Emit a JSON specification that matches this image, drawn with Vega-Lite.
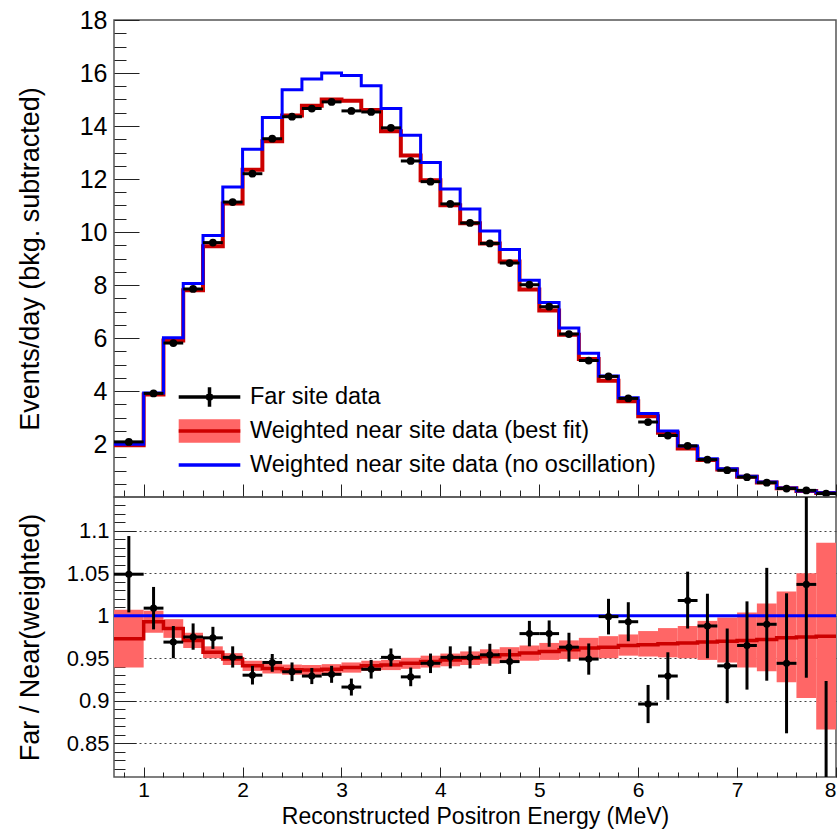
{
  "$schema": "https://vega.github.io/schema/vega-lite/v6.json",
  "background": "white",
  "padding": {"left": 15, "top": 7, "right": 5, "bottom": 2},
  "autosize": {"type": "pad"},
  "spacing": 0,
  "bounds": "flush",
  "config": {
    "font": "Liberation Sans",
    "view": {"stroke": "#555555", "strokeWidth": 1.5},
    "axis": {"labelFont": "Liberation Sans", "titleFont": "Liberation Sans", "labelColor": "#000000", "titleColor": "#000000", "titleFontWeight": "normal", "tickColor": "#222222", "tickWidth": 1, "domain": false, "grid": false},
    "legend": {"labelFont": "Liberation Sans"}
  },
  "datasets": {
    "bins": [
      {"lo": 0.7, "hi": 1.0, "e": 0.85, "far": 2.08, "red": 1.95, "blue": 1.99, "r": 1.049, "elo": 1.004, "ehi": 1.094, "blo": 0.939, "bhi": 1.007},
      {"lo": 1.0, "hi": 1.2, "e": 1.1, "far": 3.91, "red": 3.87, "blue": 3.92, "r": 1.009, "elo": 0.984, "ehi": 1.034, "blo": 0.980, "bhi": 1.006},
      {"lo": 1.2, "hi": 1.4, "e": 1.3, "far": 5.81, "red": 5.91, "blue": 6.01, "r": 0.969, "elo": 0.950, "ehi": 0.988, "blo": 0.974, "bhi": 0.996},
      {"lo": 1.4, "hi": 1.6, "e": 1.5, "far": 7.85, "red": 7.80, "blue": 8.06, "r": 0.975, "elo": 0.960, "ehi": 0.991, "blo": 0.962, "bhi": 0.980},
      {"lo": 1.6, "hi": 1.8, "e": 1.7, "far": 9.60, "red": 9.46, "blue": 9.87, "r": 0.974, "elo": 0.961, "ehi": 0.987, "blo": 0.950, "bhi": 0.964},
      {"lo": 1.8, "hi": 2.0, "e": 1.9, "far": 11.13, "red": 11.08, "blue": 11.70, "r": 0.951, "elo": 0.939, "ehi": 0.964, "blo": 0.942, "bhi": 0.956},
      {"lo": 2.0, "hi": 2.2, "e": 2.1, "far": 12.20, "red": 12.35, "blue": 13.12, "r": 0.930, "elo": 0.919, "ehi": 0.941, "blo": 0.935, "bhi": 0.947},
      {"lo": 2.2, "hi": 2.4, "e": 2.3, "far": 13.52, "red": 13.42, "blue": 14.32, "r": 0.945, "elo": 0.934, "ehi": 0.955, "blo": 0.932, "bhi": 0.944},
      {"lo": 2.4, "hi": 2.6, "e": 2.5, "far": 14.35, "red": 14.40, "blue": 15.37, "r": 0.934, "elo": 0.923, "ehi": 0.945, "blo": 0.9305, "bhi": 0.9425},
      {"lo": 2.6, "hi": 2.8, "e": 2.7, "far": 14.66, "red": 14.76, "blue": 15.77, "r": 0.929, "elo": 0.9195, "ehi": 0.9385, "blo": 0.930, "bhi": 0.942},
      {"lo": 2.8, "hi": 3.0, "e": 2.9, "far": 14.91, "red": 15.00, "blue": 16.00, "r": 0.931, "elo": 0.921, "ehi": 0.941, "blo": 0.931, "bhi": 0.943},
      {"lo": 3.0, "hi": 3.2, "e": 3.1, "far": 14.57, "red": 14.95, "blue": 15.91, "r": 0.916, "elo": 0.906, "ehi": 0.926, "blo": 0.933, "bhi": 0.945},
      {"lo": 3.2, "hi": 3.4, "e": 3.3, "far": 14.53, "red": 14.60, "blue": 15.52, "r": 0.937, "elo": 0.926, "ehi": 0.948, "blo": 0.935, "bhi": 0.947},
      {"lo": 3.4, "hi": 3.6, "e": 3.5, "far": 13.93, "red": 13.80, "blue": 14.66, "r": 0.951, "elo": 0.9405, "ehi": 0.9615, "blo": 0.936, "bhi": 0.948},
      {"lo": 3.6, "hi": 3.8, "e": 3.7, "far": 12.68, "red": 12.89, "blue": 13.65, "r": 0.928, "elo": 0.917, "ehi": 0.939, "blo": 0.9375, "bhi": 0.9505},
      {"lo": 3.8, "hi": 4.0, "e": 3.9, "far": 11.90, "red": 11.95, "blue": 12.62, "r": 0.944, "elo": 0.9325, "ehi": 0.9555, "blo": 0.939, "bhi": 0.953},
      {"lo": 4.0, "hi": 4.2, "e": 4.1, "far": 11.06, "red": 11.01, "blue": 11.62, "r": 0.951, "elo": 0.938, "ehi": 0.964, "blo": 0.9405, "bhi": 0.9555},
      {"lo": 4.2, "hi": 4.4, "e": 4.3, "far": 10.34, "red": 10.33, "blue": 10.87, "r": 0.951, "elo": 0.938, "ehi": 0.964, "blo": 0.942, "bhi": 0.958},
      {"lo": 4.4, "hi": 4.6, "e": 4.5, "far": 9.57, "red": 9.57, "blue": 10.04, "r": 0.954, "elo": 0.941, "ehi": 0.967, "blo": 0.9435, "bhi": 0.9605},
      {"lo": 4.6, "hi": 4.8, "e": 4.7, "far": 8.83, "red": 8.89, "blue": 9.34, "r": 0.946, "elo": 0.9315, "ehi": 0.9605, "blo": 0.945, "bhi": 0.963},
      {"lo": 4.8, "hi": 5.0, "e": 4.9, "far": 8.01, "red": 7.83, "blue": 8.18, "r": 0.979, "elo": 0.964, "ehi": 0.994, "blo": 0.947, "bhi": 0.965},
      {"lo": 5.0, "hi": 5.2, "e": 5.1, "far": 7.18, "red": 7.04, "blue": 7.34, "r": 0.979, "elo": 0.9635, "ehi": 0.9945, "blo": 0.948, "bhi": 0.968},
      {"lo": 5.2, "hi": 5.4, "e": 5.3, "far": 6.15, "red": 6.12, "blue": 6.38, "r": 0.963, "elo": 0.946, "ehi": 0.980, "blo": 0.949, "bhi": 0.971},
      {"lo": 5.4, "hi": 5.6, "e": 5.5, "far": 5.15, "red": 5.21, "blue": 5.42, "r": 0.949, "elo": 0.9306, "ehi": 0.9674, "blo": 0.950, "bhi": 0.974},
      {"lo": 5.6, "hi": 5.8, "e": 5.7, "far": 4.55, "red": 4.39, "blue": 4.57, "r": 0.999, "elo": 0.978, "ehi": 1.020, "blo": 0.950, "bhi": 0.976},
      {"lo": 5.8, "hi": 6.0, "e": 5.9, "far": 3.72, "red": 3.61, "blue": 3.75, "r": 0.993, "elo": 0.970, "ehi": 1.016, "blo": 0.953, "bhi": 0.978},
      {"lo": 6.0, "hi": 6.2, "e": 6.1, "far": 2.83, "red": 3.05, "blue": 3.15, "r": 0.896, "elo": 0.8735, "ehi": 0.9185, "blo": 0.952, "bhi": 0.982},
      {"lo": 6.2, "hi": 6.4, "e": 6.3, "far": 2.32, "red": 2.42, "blue": 2.49, "r": 0.929, "elo": 0.901, "ehi": 0.957, "blo": 0.951, "bhi": 0.9855},
      {"lo": 6.4, "hi": 6.6, "e": 6.5, "far": 1.93, "red": 1.83, "blue": 1.92, "r": 1.018, "elo": 0.985, "ehi": 1.052, "blo": 0.950, "bhi": 0.988},
      {"lo": 6.6, "hi": 6.8, "e": 6.7, "far": 1.41, "red": 1.40, "blue": 1.44, "r": 0.988, "elo": 0.950, "ehi": 1.026, "blo": 0.948, "bhi": 0.994},
      {"lo": 6.8, "hi": 7.0, "e": 6.9, "far": 1.01, "red": 1.04, "blue": 1.07, "r": 0.941, "elo": 0.897, "ehi": 0.985, "blo": 0.945, "bhi": 0.998},
      {"lo": 7.0, "hi": 7.2, "e": 7.1, "far": 0.75, "red": 0.76, "blue": 0.78, "r": 0.965, "elo": 0.913, "ehi": 1.017, "blo": 0.939, "bhi": 1.004},
      {"lo": 7.2, "hi": 7.4, "e": 7.3, "far": 0.54, "red": 0.55, "blue": 0.57, "r": 0.990, "elo": 0.9235, "ehi": 1.0565, "blo": 0.9345, "bhi": 1.0145},
      {"lo": 7.4, "hi": 7.6, "e": 7.5, "far": 0.32, "red": 0.33, "blue": 0.34, "r": 0.944, "elo": 0.8615, "ehi": 1.0265, "blo": 0.9216, "bhi": 1.0286},
      {"lo": 7.6, "hi": 7.8, "e": 7.7, "far": 0.25, "red": 0.225, "blue": 0.23, "r": 1.037, "elo": 0.927, "ehi": 1.147, "blo": 0.903, "bhi": 1.050},
      {"lo": 7.8, "hi": 8.0, "e": 7.9, "far": 0.13, "red": 0.155, "blue": 0.16, "r": 0.77, "elo": 0.617, "ehi": 0.923, "blo": 0.866, "bhi": 1.086}
    ],
    "edges": [
      {"x": 0.7, "red": 1.95, "blue": 1.99, "rr": 0.973},
      {"x": 1.0, "red": 3.87, "blue": 3.92, "rr": 0.993},
      {"x": 1.2, "red": 5.91, "blue": 6.01, "rr": 0.985},
      {"x": 1.4, "red": 7.80, "blue": 8.06, "rr": 0.971},
      {"x": 1.6, "red": 9.46, "blue": 9.87, "rr": 0.957},
      {"x": 1.8, "red": 11.08, "blue": 11.70, "rr": 0.949},
      {"x": 2.0, "red": 12.35, "blue": 13.12, "rr": 0.941},
      {"x": 2.2, "red": 13.42, "blue": 14.32, "rr": 0.938},
      {"x": 2.4, "red": 14.40, "blue": 15.37, "rr": 0.9365},
      {"x": 2.6, "red": 14.76, "blue": 15.77, "rr": 0.936},
      {"x": 2.8, "red": 15.00, "blue": 16.00, "rr": 0.937},
      {"x": 3.0, "red": 14.95, "blue": 15.91, "rr": 0.939},
      {"x": 3.2, "red": 14.60, "blue": 15.52, "rr": 0.941},
      {"x": 3.4, "red": 13.80, "blue": 14.66, "rr": 0.942},
      {"x": 3.6, "red": 12.89, "blue": 13.65, "rr": 0.944},
      {"x": 3.8, "red": 11.95, "blue": 12.62, "rr": 0.946},
      {"x": 4.0, "red": 11.01, "blue": 11.62, "rr": 0.948},
      {"x": 4.2, "red": 10.33, "blue": 10.87, "rr": 0.950},
      {"x": 4.4, "red": 9.57, "blue": 10.04, "rr": 0.952},
      {"x": 4.6, "red": 8.89, "blue": 9.34, "rr": 0.954},
      {"x": 4.8, "red": 7.83, "blue": 8.18, "rr": 0.956},
      {"x": 5.0, "red": 7.04, "blue": 7.34, "rr": 0.958},
      {"x": 5.2, "red": 6.12, "blue": 6.38, "rr": 0.960},
      {"x": 5.4, "red": 5.21, "blue": 5.42, "rr": 0.962},
      {"x": 5.6, "red": 4.39, "blue": 4.57, "rr": 0.963},
      {"x": 5.8, "red": 3.61, "blue": 3.75, "rr": 0.965},
      {"x": 6.0, "red": 3.05, "blue": 3.15, "rr": 0.966},
      {"x": 6.2, "red": 2.42, "blue": 2.49, "rr": 0.967},
      {"x": 6.4, "red": 1.83, "blue": 1.92, "rr": 0.968},
      {"x": 6.6, "red": 1.40, "blue": 1.44, "rr": 0.969},
      {"x": 6.8, "red": 1.04, "blue": 1.07, "rr": 0.970},
      {"x": 7.0, "red": 0.76, "blue": 0.78, "rr": 0.971},
      {"x": 7.2, "red": 0.55, "blue": 0.57, "rr": 0.972},
      {"x": 7.4, "red": 0.33, "blue": 0.34, "rr": 0.974},
      {"x": 7.6, "red": 0.225, "blue": 0.23, "rr": 0.975},
      {"x": 7.8, "red": 0.155, "blue": 0.16, "rr": 0.976},
      {"x": 8.0, "red": 0.155, "blue": 0.16, "rr": 0.976}
    ]
  },
  "vconcat": [
    {
      "width": 722,
      "height": 477,
      "layer": [
        {
          "data": {"name": "edges"},
          "mark": {"type": "line", "interpolate": "step-after", "color": "#cc0000", "strokeWidth": 4},
          "encoding": {
            "x": {"field": "x", "type": "quantitative", "scale": {"domain": [0.7, 8], "nice": false, "zero": false},
                  "axis": {"orient": "bottom", "values": [1, 2, 3, 4, 5, 6, 7, 8], "labels": false, "tickSize": -13, "title": null}},
            "y": {"field": "red", "type": "quantitative", "scale": {"domain": [0, 18], "nice": false, "zero": false},
                  "axis": {"orient": "left", "values": [2, 4, 6, 8, 10, 12, 14, 16, 18], "tickSize": -25, "labelFontSize": 25, "labelPadding": 32,
                           "title": "Events/day (bkg. subtracted)", "titleFontSize": 27, "titleX": -70, "titleY": 238.5, "titleAngle": -90, "titleBaseline": "bottom", "titleAlign": "center"}}
          }
        },
        {
          "data": {"name": "edges"},
          "mark": {"type": "line", "interpolate": "step-after", "color": "#0000ff", "strokeWidth": 3},
          "encoding": {
            "x": {"field": "x", "type": "quantitative",
                  "axis": {"orient": "bottom", "values": [0.8, 1.2, 1.4, 1.6, 1.8, 2.2, 2.4, 2.6, 2.8, 3.2, 3.4, 3.6, 3.8, 4.2, 4.4, 4.6, 4.8, 5.2, 5.4, 5.6, 5.8, 6.2, 6.4, 6.6, 6.8, 7.2, 7.4, 7.6, 7.8], "labels": false, "tickSize": -7, "title": null}},
            "y": {"field": "blue", "type": "quantitative",
                  "axis": {"orient": "left", "values": [0.5, 1, 1.5, 2.5, 3, 3.5, 4.5, 5, 5.5, 6.5, 7, 7.5, 8.5, 9, 9.5, 10.5, 11, 11.5, 12.5, 13, 13.5, 14.5, 15, 15.5, 16.5, 17, 17.5], "labels": false, "tickSize": -12, "title": null}}
          }
        },
        {
          "data": {"name": "bins"},
          "mark": {"type": "rule", "color": "#000000", "strokeWidth": 3},
          "encoding": {
            "x": {"field": "lo", "type": "quantitative", "axis": null},
            "x2": {"field": "hi"},
            "y": {"field": "far", "type": "quantitative", "axis": null}
          }
        },
        {
          "data": {"name": "bins"},
          "mark": {"type": "point", "filled": true, "color": "#000000", "size": 60, "opacity": 1},
          "encoding": {
            "x": {"field": "e", "type": "quantitative", "axis": null},
            "y": {"field": "far", "type": "quantitative", "axis": null}
          }
        },
        {
          "data": {"values": [
            {"s": "A", "t": "Far site data"},
            {"s": "B", "t": "Weighted near site data (best fit)"},
            {"s": "C", "t": "Weighted near site data (no oscillation)"}
          ]},
          "transform": [{"filter": "false"}],
          "mark": {"type": "point", "opacity": 1},
          "encoding": {
            "fill": {"field": "s", "type": "nominal",
                     "scale": {"domain": ["A", "B", "C"], "range": ["transparent", "#ff6666", "transparent"]},
                     "legend": {"orient": "none", "legendX": 82.5, "legendY": 364, "title": null, "symbolType": "M-2.8,-1.064H2.8V1.064H-2.8Z", "symbolSize": 484, "symbolStrokeWidth": 3.5, "symbolStrokeColor": "transparent", "symbolOpacity": 1, "labelExpr": "''", "labelFontSize": 23.5, "labelOffset": 27.5, "rowPadding": -4, "padding": 0, "zindex": 0, "labelLimit": 700}},
            "stroke": {"field": "t", "type": "nominal",
                       "scale": {"domain": ["Far site data", "Weighted near site data (best fit)", "Weighted near site data (no oscillation)"], "range": ["#000000", "#cc0000", "#0000ff"]},
                       "legend": {"orient": "none", "legendX": 82.5, "legendY": 364, "title": null, "symbolSize": 484, "symbolStrokeWidth": 3.5, "symbolOpacity": 1, "labelColor": "#000000", "labelFontSize": 23.5, "labelOffset": 27.5, "rowPadding": -4, "padding": 0, "zindex": 1, "labelLimit": 700}},
            "shape": {"field": "t", "type": "nominal",
                      "scale": {"domain": ["Far site data", "Weighted near site data (best fit)", "Weighted near site data (no oscillation)"],
                                "range": [
                                  "M-2.8,0H2.8M0,-0.88V0.88M0.2,0L0.141,0.141L0,0.2L-0.141,0.141L-0.2,0L-0.141,-0.141L0,-0.2L0.141,-0.141ZM0,-1.064L0,-1.064M0,1.064L0,1.064",
                                  "M-2.8,0H2.8M0,-1.064L0,-1.064M0,1.064L0,1.064",
                                  "M-2.8,0H2.8M0,-1.064L0,-1.064M0,1.064L0,1.064"
                                ]},
                      "legend": {"orient": "none", "legendX": 82.5, "legendY": 364, "title": null, "symbolSize": 484, "symbolStrokeWidth": 3.5, "symbolOpacity": 1, "labelColor": "#000000", "labelFontSize": 23.5, "labelOffset": 27.5, "rowPadding": -4, "padding": 0, "zindex": 1, "labelLimit": 700}}
          }
        }
      ],
      "resolve": {"axis": {"x": "independent", "y": "independent"}}
    },
    {
      "width": 722,
      "height": 280,
      "layer": [
        {
          "data": {"name": "bins"},
          "mark": {"type": "rect", "color": "#ff6666", "clip": true},
          "encoding": {
            "x": {"field": "lo", "type": "quantitative", "scale": {"domain": [0.7, 8], "nice": false, "zero": false},
                  "axis": {"orient": "bottom", "values": [1, 2, 3, 4, 5, 6, 7, 8], "tickSize": -10, "labelFontSize": 21, "labelPadding": 12,
                           "title": "Reconstructed Positron Energy (MeV)", "titleFontSize": 23, "titleX": 361, "titleY": 46, "titleBaseline": "alphabetic", "titleAlign": "center"}},
            "x2": {"field": "hi"},
            "y": {"field": "blo", "type": "quantitative", "scale": {"domain": [0.81, 1.14], "nice": false, "zero": false},
                  "axis": {"orient": "left", "values": [0.85, 0.9, 0.95, 1, 1.05, 1.1], "format": "~g", "tickSize": -22, "labelFontSize": 22, "labelPadding": 27,
                           "grid": true, "gridColor": "#444444", "gridDash": [2, 3], "gridWidth": 1,
                           "title": "Far / Near(weighted)", "titleFontSize": 27, "titleX": -70, "titleY": 140, "titleAngle": -90, "titleBaseline": "bottom", "titleAlign": "center"}},
            "y2": {"field": "bhi"}
          }
        },
        {
          "data": {"name": "edges"},
          "mark": {"type": "line", "interpolate": "step-after", "color": "#cc0000", "strokeWidth": 3.5, "clip": true},
          "encoding": {
            "x": {"field": "x", "type": "quantitative",
                  "axis": {"orient": "bottom", "values": [0.8, 1.2, 1.4, 1.6, 1.8, 2.2, 2.4, 2.6, 2.8, 3.2, 3.4, 3.6, 3.8, 4.2, 4.4, 4.6, 4.8, 5.2, 5.4, 5.6, 5.8, 6.2, 6.4, 6.6, 6.8, 7.2, 7.4, 7.6, 7.8], "labels": false, "tickSize": -5, "title": null}},
            "y": {"field": "rr", "type": "quantitative",
                  "axis": {"orient": "left", "values": [0.82, 0.83, 0.84, 0.86, 0.87, 0.88, 0.89, 0.91, 0.92, 0.93, 0.94, 0.96, 0.97, 0.98, 0.99, 1.01, 1.02, 1.03, 1.04, 1.06, 1.07, 1.08, 1.09, 1.11, 1.12, 1.13], "labels": false, "tickSize": -11, "title": null}}
          }
        },
        {
          "data": {"values": [{"ref": 1}]},
          "mark": {"type": "rule", "color": "#0000ff", "strokeWidth": 3},
          "encoding": {
            "y": {"field": "ref", "type": "quantitative", "axis": null}
          }
        },
        {
          "data": {"name": "bins"},
          "mark": {"type": "rule", "color": "#000000", "strokeWidth": 3, "clip": true},
          "encoding": {
            "x": {"field": "e", "type": "quantitative", "axis": null},
            "y": {"field": "elo", "type": "quantitative", "axis": null},
            "y2": {"field": "ehi"}
          }
        },
        {
          "data": {"name": "bins"},
          "mark": {"type": "rule", "color": "#000000", "strokeWidth": 3, "clip": true},
          "encoding": {
            "x": {"field": "lo", "type": "quantitative", "axis": null},
            "x2": {"field": "hi"},
            "y": {"field": "r", "type": "quantitative", "axis": null}
          }
        },
        {
          "data": {"name": "bins"},
          "mark": {"type": "point", "filled": true, "color": "#000000", "size": 50, "opacity": 1, "clip": true},
          "encoding": {
            "x": {"field": "e", "type": "quantitative", "axis": null},
            "y": {"field": "r", "type": "quantitative", "axis": null}
          }
        }
      ],
      "resolve": {"axis": {"x": "independent", "y": "independent"}}
    }
  ]
}
